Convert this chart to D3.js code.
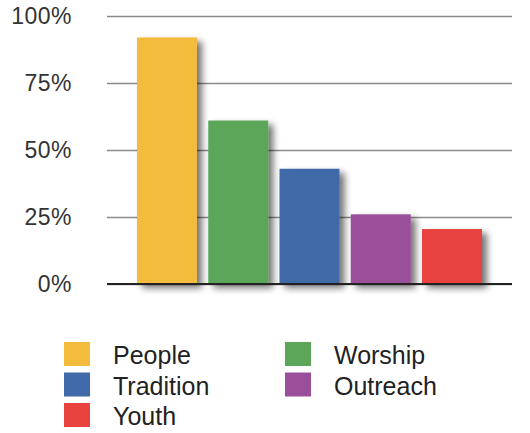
<!DOCTYPE html>
<html>
<head>
<meta charset="utf-8">
<script src="https://cdn.jsdelivr.net/npm/d3@7"></script>
<style>
    body { margin: 0; background: #fff; }
    text { font-family: 'Liberation Sans', Arial, sans-serif; }
</style>
</head>
<body>
<div id="chart"></div>
<script>
// data
const categories = ['People', 'Worship', 'Tradition', 'Outreach', 'Youth'];
const values = [0.92, 0.61, 0.43, 0.26, 0.205];
const colors = ['#f3bc3c', '#5ca65a', '#3f69a8', '#9a4f9a', '#e8423f'];
const tickValues = [0, 0.25, 0.5, 0.75, 1];
const tickLabels = ['0%', '25%', '50%', '75%', '100%'];

// set dimensions
const w = 530;
const h = 433;
const gridLeft = 107;
const gridRight = 512;

const x_scale = d3
    .scaleBand()
    .domain(categories)
    .range([125.75, 493.25])
    .padding(0.158);

const y_scale = d3
    .scaleLinear()
    .domain([0, 1])
    .range([284, 16]);

const svg = d3
    .select('#chart')
    .append('svg')
    .attr('width', w)
    .attr('height', h);

// soft drop shadow behind the bars
const defs = svg.append('defs');
const shadow = defs.append('filter')
    .attr('id', 'shadow')
    .attr('x', '-20%').attr('y', '-10%')
    .attr('width', '160%').attr('height', '140%');
shadow.append('feGaussianBlur').attr('in', 'SourceAlpha').attr('stdDeviation', 3.5);
shadow.append('feOffset').attr('dx', 5).attr('dy', 4).attr('result', 'off');
shadow.append('feComponentTransfer').append('feFuncA').attr('type', 'linear').attr('slope', 0.55);
const merge = shadow.append('feMerge');
merge.append('feMergeNode');
merge.append('feMergeNode').attr('in', 'SourceGraphic');

// y axis: gridlines + labels
const y_axis = d3.axisLeft(y_scale)
    .tickValues(tickValues)
    .tickFormat((d, i) => tickLabels[i])
    .tickSize(-(gridRight - gridLeft))
    .tickPadding(35);

const yg = svg.append('g')
    .attr('transform', `translate(${gridLeft}, 0)`)
    .call(y_axis);
yg.select('.domain').remove();
yg.selectAll('.tick line')
    .attr('stroke', '#8a8a8a')
    .attr('stroke-width', 1.5);
yg.selectAll('.tick text')
    .attr('font-size', 23)
    .attr('fill', '#333')
    .attr('letter-spacing', 0.5)
    .attr('font-family', "'Liberation Sans', Arial, sans-serif");

// bars
svg.append('g')
    .selectAll('rect')
    .data(values)
    .enter()
    .append('rect')
    .attr('x', (d, i) => x_scale(categories[i]))
    .attr('y', d => y_scale(d))
    .attr('width', x_scale.bandwidth())
    .attr('height', d => y_scale(0) - y_scale(d))
    .attr('fill', (d, i) => colors[i])
    .attr('filter', 'url(#shadow)');

// baseline
svg.append('line')
    .attr('x1', gridLeft)
    .attr('x2', gridRight)
    .attr('y1', y_scale(0))
    .attr('y2', y_scale(0))
    .attr('stroke', '#222')
    .attr('stroke-width', 2);

// legend
const legend = svg.append('g');
const colX = [64, 285];
const item = legend.selectAll('g')
    .data(categories)
    .enter()
    .append('g')
    .attr('transform', (d, i) => `translate(${colX[i % 2]}, ${342 + Math.floor(i / 2) * 30.5})`);

item.append('rect')
    .attr('width', 26)
    .attr('height', 24)
    .attr('fill', (d, i) => colors[i]);

item.append('text')
    .attr('x', 49)
    .attr('y', 22)
    .attr('font-size', 25)
    .attr('fill', '#222')
    .text(d => d);
</script>
</body>
</html>
